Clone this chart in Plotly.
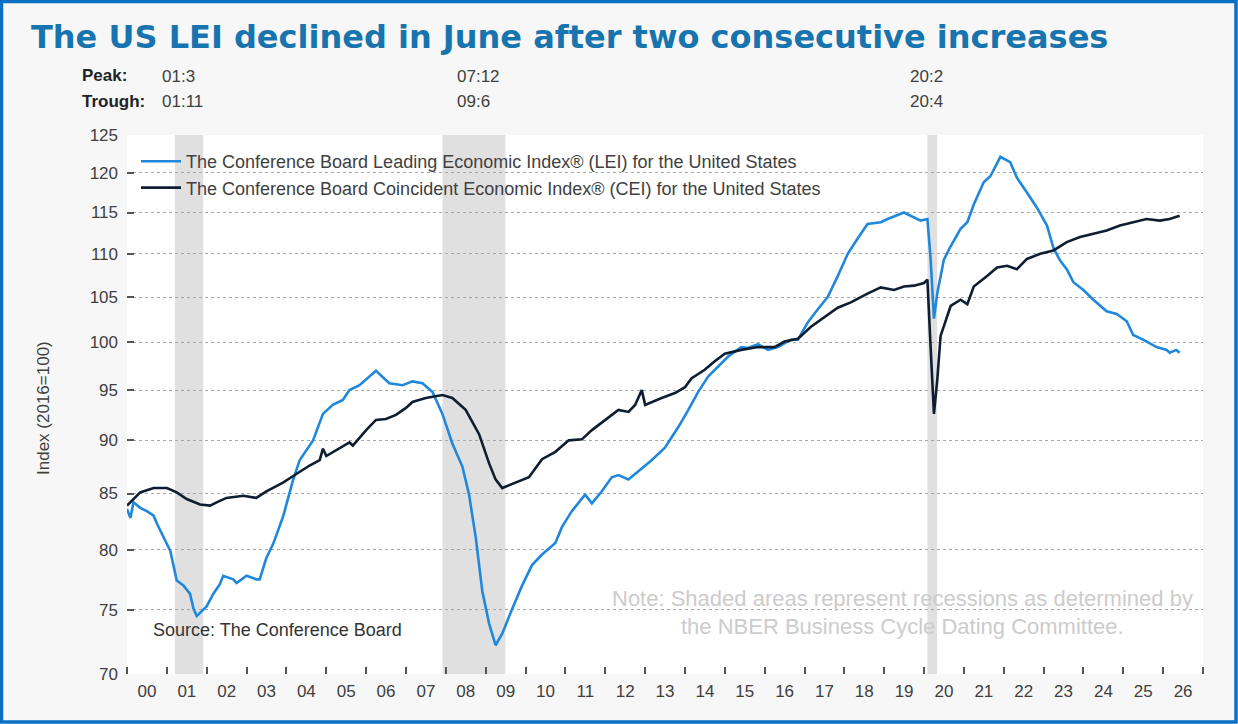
import plotly.graph_objects as go

# LEI (light blue), monthly dates
lei_dates = ["2000-01", "2000-02", "2000-03", "2000-05", "2000-07", "2000-09", "2000-10",
             "2001-02", "2001-04", "2001-06", "2001-08", "2001-09", "2001-10",
             "2002-01", "2002-03", "2002-05", "2002-06", "2002-09", "2002-10",
             "2003-01", "2003-04", "2003-05", "2003-07", "2003-09", "2003-12",
             "2004-03", "2004-05", "2004-09", "2004-12",
             "2005-03", "2005-06", "2005-08", "2005-11",
             "2006-04", "2006-08", "2006-12",
             "2007-03", "2007-06", "2007-09", "2007-12",
             "2008-03", "2008-06", "2008-08", "2008-10", "2008-12",
             "2009-02", "2009-04", "2009-06", "2009-09", "2009-12",
             "2010-03", "2010-06", "2010-10", "2010-12",
             "2011-03", "2011-07", "2011-09", "2011-12",
             "2012-03", "2012-05", "2012-08", "2012-11",
             "2013-03", "2013-07", "2013-11",
             "2014-02", "2014-05", "2014-08", "2014-11",
             "2015-02", "2015-06", "2015-08", "2015-11",
             "2016-02", "2016-05", "2016-09", "2016-11",
             "2017-02", "2017-05", "2017-08", "2017-11",
             "2018-02", "2018-05", "2018-08", "2018-12",
             "2019-02", "2019-07", "2019-09", "2019-12",
             "2020-02", "2020-03", "2020-04", "2020-05", "2020-07", "2020-09", "2020-12",
             "2021-02", "2021-04", "2021-07", "2021-09", "2021-11", "2021-12",
             "2022-03", "2022-05", "2022-08", "2022-11",
             "2023-02", "2023-04", "2023-06", "2023-08", "2023-10",
             "2024-01", "2024-04", "2024-08", "2024-11",
             "2025-02", "2025-04", "2025-07", "2025-11",
             "2026-02", "2026-03", "2026-05", "2026-06"]
lei_values = [83.6, 82.8, 84.2, 83.7, 83.4, 83.0, 82.3,
              79.9, 77.4, 77.0, 76.3, 75.1, 74.5,
              75.3, 76.3, 77.1, 77.8, 77.5, 77.2,
              77.8, 77.5, 77.5, 79.3, 80.5, 82.9,
              86.2, 88.1, 90.0, 92.6,
              93.5, 94.0, 95.0, 95.5,
              97.0, 95.7, 95.5,
              95.9, 95.7, 94.8, 92.6,
              89.7, 87.5, 84.9, 81.1, 76.5,
              73.9, 72.2, 73.1, 75.1, 77.0,
              78.7, 79.6, 80.6, 82.0,
              83.4, 84.9, 84.1, 85.2,
              86.5, 86.7, 86.3, 87.1,
              88.1, 89.3, 91.3,
              93.0, 94.8, 96.4, 97.4,
              98.5, 99.5, 99.4, 99.8,
              99.2, 99.5, 100.3, 100.3,
              102.2, 103.6, 105.0, 107.4,
              110.0, 111.8, 113.6, 113.8,
              114.2, 115.0, 114.6, 114.0,
              114.2, 109.5, 102.6, 105.4, 109.3, 110.9, 113.0,
              113.8, 116.0, 118.8, 119.6, 121.4, 122.1,
              121.4, 119.4, 117.5, 115.6,
              113.4, 110.7, 109.2, 108.2, 106.7,
              105.8, 104.7, 103.4, 103.1,
              102.3, 100.8, 100.3, 99.5,
              99.2, 98.9, 99.2, 98.9]

# CEI (dark navy)
cei_dates = ["2000-01", "2000-03", "2000-05", "2000-09",
             "2001-01", "2001-04", "2001-07", "2001-11",
             "2002-02", "2002-04", "2002-07", "2002-12",
             "2003-04", "2003-07", "2003-12",
             "2004-04", "2004-08", "2004-11", "2004-12",
             "2005-01", "2005-05", "2005-08", "2005-09",
             "2006-01", "2006-04", "2006-07", "2006-10",
             "2007-01", "2007-03", "2007-07", "2007-12",
             "2008-03", "2008-07", "2008-11",
             "2009-02", "2009-04", "2009-06", "2009-10",
             "2010-02", "2010-06", "2010-10",
             "2011-02", "2011-06", "2011-09",
             "2012-01", "2012-05", "2012-08", "2012-10", "2012-12",
             "2013-01", "2013-06", "2013-10",
             "2014-01", "2014-03", "2014-07", "2014-10",
             "2015-01", "2015-06", "2015-11",
             "2016-04", "2016-07", "2016-11",
             "2017-03", "2017-07", "2017-11",
             "2018-03", "2018-08", "2018-12",
             "2019-04", "2019-07", "2019-10",
             "2020-01", "2020-02", "2020-03", "2020-04", "2020-05", "2020-06", "2020-09", "2020-12",
             "2021-02", "2021-04", "2021-08", "2021-11",
             "2022-02", "2022-05", "2022-08", "2022-12",
             "2023-04", "2023-08", "2023-12",
             "2024-04", "2024-08", "2024-12",
             "2025-04", "2025-08", "2025-12",
             "2026-03", "2026-06"]
cei_values = [83.9, 84.5, 85.1, 85.5,
              85.5, 85.1, 84.5, 84.0,
              83.9, 84.2, 84.6, 84.8,
              84.6, 85.2, 86.0,
              86.8, 87.6, 88.1, 89.2,
              88.5, 89.2, 89.8, 89.5,
              91.0, 92.0, 92.1, 92.5,
              93.2, 93.8, 94.2, 94.5,
              94.2, 93.0, 90.6,
              87.8, 86.3, 85.5, 86.0,
              86.5, 88.2, 88.9,
              90.0, 90.1, 91.0,
              92.0, 93.0, 92.8, 93.5, 95.0,
              93.5, 94.2, 94.7,
              95.3, 96.2, 97.1, 98.0,
              98.8, 99.2, 99.5,
              99.5, 100.1, 100.4,
              101.7, 102.7, 103.8,
              104.4, 105.4, 106.1,
              105.8, 106.2, 106.3,
              106.6, 107.0, 99.6, 92.6, 96.0, 100.7, 104.0, 104.7,
              104.2, 106.2, 107.4, 108.4,
              108.6, 108.2, 109.4, 110.0,
              110.4, 111.4, 112.0,
              112.4, 112.8, 113.4,
              113.8, 114.2, 114.0,
              114.2, 114.6]

# NBER recessions (peak, trough)
rec_peaks = ["01:3", "07:12", "20:2"]
rec_troughs = ["01:11", "09:6", "20:4"]
rec_start = ["2001-03-15", "2007-12-01", "2020-02-01"]
rec_end = ["2001-11-30", "2009-06-30", "2020-04-30"]

y_ticks = [70, 75, 80, 85, 90, 95, 100, 105, 110, 115, 120, 125]

W, H = 1238, 724
PL, PR, PT, PB = 127, 1203, 135, 674


def px_x(px):
    return (px - PL) / (PR - PL)


def px_y(py):
    return (PB - py) / (PB - PT)


FONT = "Liberation Sans, Arial, sans-serif"
TXT = "#404040"

fig = go.Figure()

fig.add_trace(go.Scatter(
    x=lei_dates, y=lei_values, mode="lines",
    name="The Conference Board Leading Economic Index® (LEI) for the United States",
    line=dict(color="#2088dc", width=2.6)))
fig.add_trace(go.Scatter(
    x=cei_dates, y=cei_values, mode="lines",
    name="The Conference Board Coincident Economic Index® (CEI) for the United States",
    line=dict(color="#0e1d30", width=2.6)))

for s, e in zip(rec_start, rec_end):
    fig.add_vrect(x0=s, x1=e, fillcolor="#e0e0e0", line_width=0, layer="below", opacity=1)

# blue frame round the whole picture
fig.add_shape(type="rect", xref="paper", yref="paper",
              x0=px_x(1.5), x1=px_x(W - 2), y0=px_y(H - 2), y1=px_y(1.5),
              line=dict(color="#0b6fc4", width=3.5))

ann = []
ann.append(dict(text="<b>Peak:</b>", x=px_x(80), y=px_y(76), xanchor="left", yanchor="middle",
                font=dict(size=17, color="#222")))
ann.append(dict(text="<b>Trough:</b>", x=px_x(80), y=px_y(101), xanchor="left", yanchor="middle",
                font=dict(size=17, color="#222")))
for xp, pk, tr in zip([160, 455, 908], rec_peaks, rec_troughs):
    ann.append(dict(text=pk, x=px_x(xp), y=px_y(77), xanchor="left", yanchor="middle",
                    font=dict(size=17, color=TXT)))
    ann.append(dict(text=tr, x=px_x(xp), y=px_y(102), xanchor="left", yanchor="middle",
                    font=dict(size=17, color=TXT)))
ann.append(dict(text="Source: The Conference Board", x=px_x(151), y=px_y(630),
                xanchor="left", yanchor="middle", font=dict(size=18, color="#333")))
ann.append(dict(text="Note: Shaded areas represent recessions as determined by",
                x=px_x(902), y=px_y(598), xanchor="center", yanchor="middle",
                font=dict(size=22, color="#cccccc")))
ann.append(dict(text="the NBER Business Cycle Dating Committee.",
                x=px_x(902), y=px_y(626), xanchor="center", yanchor="middle",
                font=dict(size=22, color="#cccccc")))
ann.append(dict(text="Index (2016=100)", x=px_x(43), y=px_y(408), textangle=-90,
                xanchor="center", yanchor="middle", font=dict(size=17, color=TXT)))
for a in ann:
    a.update(xref="paper", yref="paper", showarrow=False)

fig.update_layout(
    width=W, height=H,
    margin=dict(l=PL, r=W - PR, t=PT, b=H - PB),
    paper_bgcolor="#f7f7f7", plot_bgcolor="white",
    font=dict(family=FONT, size=17, color=TXT),
    title=dict(text="The US LEI declined in June after two consecutive increases",
               x=31 / W, xanchor="left", xref="container",
               y=1 - 37 / H, yanchor="middle", yref="container",
               font=dict(family="DejaVu Sans, sans-serif", size=32, color="#1774ae", weight="bold")),
    showlegend=True,
    legend=dict(x=px_x(136), y=px_y(143), xanchor="left", yanchor="top",
                bgcolor="rgba(0,0,0,0)", font=dict(size=18, color=TXT),
                itemwidth=40),
    annotations=ann,
)

fig.update_xaxes(type="date", range=["2000-01-01", "2027-01-01"],
                 dtick="M12", tick0="2000-01-01", ticklabelmode="period", tickformat="%y",
                 ticks="inside", ticklen=7, tickwidth=1.5, tickcolor="#555",
                 ticklabelstandoff=5,
                 showgrid=False, showline=False, zeroline=False,
                 tickfont=dict(size=17, color=TXT))
fig.update_yaxes(type="log", range=[1.845098, 2.09691],
                 tickvals=y_ticks, ticktext=[str(v) for v in y_ticks],
                 ticks="inside", ticklen=7, tickwidth=1.5, tickcolor="#555",
                 ticklabelstandoff=8,
                 showgrid=True, gridcolor="#a8a8a8", griddash="dot", gridwidth=1,
                 showline=False, zeroline=False,
                 tickfont=dict(size=17, color=TXT))

fig.write_html("out.html", config={"displayModeBar": False},
               post_script="document.body.style.margin='0';")
